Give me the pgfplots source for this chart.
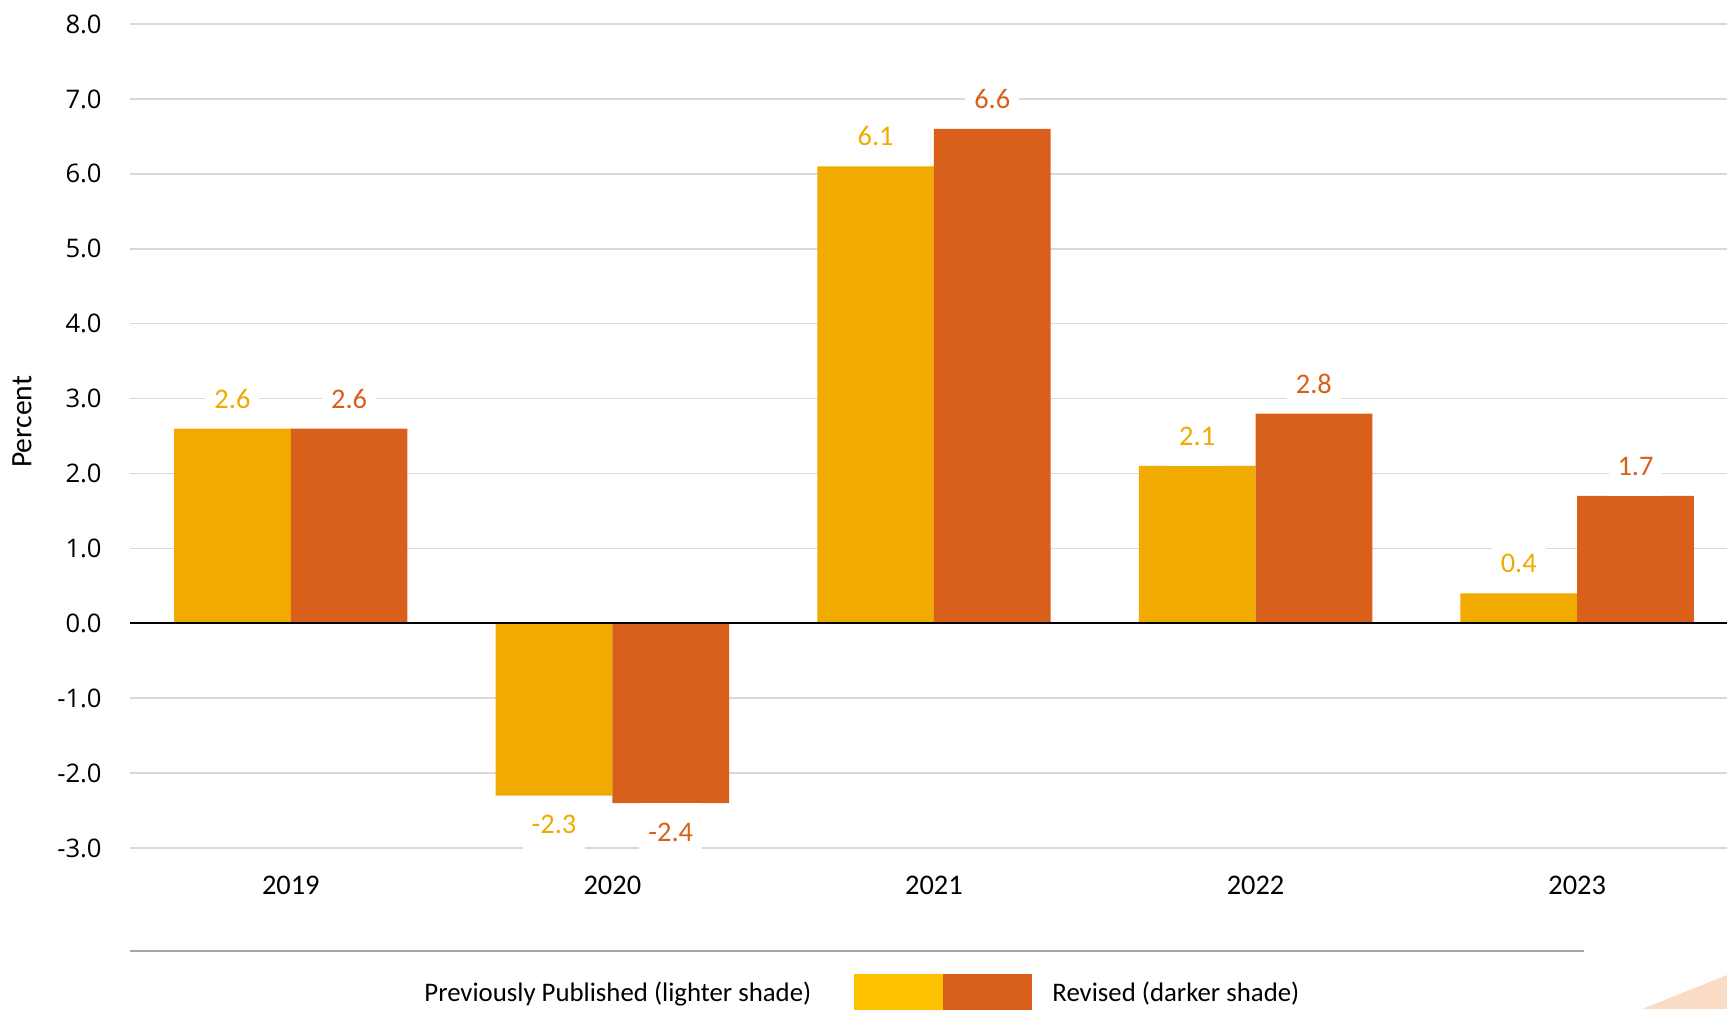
\documentclass[border=0pt]{standalone}
\usepackage{pgfplots}
\pgfplotsset{compat=1.18}
\usepackage{fontspec}
\setmainfont{Carlito}
\newfontfamily\osans{Open Sans}

\definecolor{prevbar}{HTML}{F0AA00}
\definecolor{revbar}{HTML}{D9601A}
\definecolor{prevkey}{HTML}{FFC000}
\definecolor{gridc}{HTML}{D9D9D9}
\definecolor{rulec}{HTML}{A6A6A6}
\definecolor{peach}{HTML}{FADBC6}

\begin{document}
\begin{tikzpicture}
\useasboundingbox (0,0) rectangle (863.5pt,504.5pt);
\begin{axis}[
  at={(65pt,80.5pt)}, anchor=south west,
  scale only axis,
  width=798.5pt, height=412pt,
  ybar=0pt, bar width=58.35pt,
  xmin=-0.5, xmax=4.466,
  ymin=-3, ymax=8,
  xtick={0,1,2,3,4},
  xticklabels={2019,2020,2021,2022,2023},
  ytick={-3,-2,...,8},
  axis line style={draw=none},
  major tick length=0pt,
  ymajorgrids,
  grid style={gridc, line width=0.85pt},
  yticklabel={\pgfmathprintnumber[fixed,fixed zerofill,precision=1,assume math mode=true]{\tick}},
  yticklabel style={font=\osans\fontsize{12.8}{14}\selectfont, inner sep=0pt, anchor=east, xshift=-14pt},
  xticklabel style={font=\fontsize{14.2}{16}\selectfont, inner sep=0pt, anchor=north, yshift=-13.75pt},
  ylabel={Percent},
  every axis y label/.style={at={(axis description cs:-0.0676,0.517)}, rotate=90, anchor=center, font=\fontsize{14.8}{16}\selectfont},
  nodes near coords={\pgfmathprintnumber[fixed,fixed zerofill,precision=1,assume math mode=true]{\pgfplotspointmeta}},
  every node near coord/.append style={font=\fontsize{14.2}{16}\selectfont, fill=white, inner xsep=4.5pt, inner ysep=10pt, text height=9pt, text depth=0pt},
  clip=false,
]
\addplot[fill=prevbar, draw=none, every node near coord/.append style={text=prevbar}]
  coordinates {(0,2.6) (1,-2.3) (2,6.1) (3,2.1) (4,0.4)};
\addplot[fill=revbar, draw=none, every node near coord/.append style={text=revbar}]
  coordinates {(0,2.6) (1,-2.4) (2,6.6) (3,2.8) (4,1.7)};
\draw[black, line width=1pt] (axis cs:-0.5,0) -- (axis cs:4.466,0);
\end{axis}
% legend and rule below the plot
\draw[rulec, line width=1pt] (65pt,29.25pt) -- (792pt,29.25pt);
\fill[prevkey] (426.8pt,-5pt) rectangle (471.5pt,17.7pt);
\fill[revbar] (471.5pt,-5pt) rectangle (516pt,17.5pt);
\node[anchor=base east, inner sep=0pt, font=\fontsize{13.4}{15}\selectfont] at (405.85pt,3.65pt) {Previously Published (lighter shade)};
\node[anchor=base west, inner sep=0pt, font=\fontsize{13.4}{15}\selectfont] at (526pt,3.65pt) {Revised (darker shade)};
\fill[peach] (821pt,0pt) -- (863.5pt,17pt) -- (863.5pt,0pt) -- cycle;
\end{tikzpicture}
\end{document}
